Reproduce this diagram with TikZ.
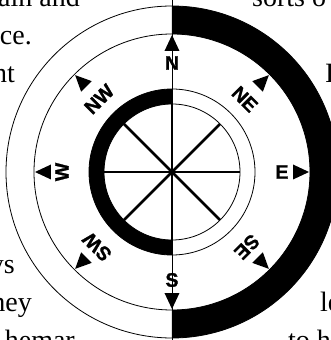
\documentclass[tikz,border=0pt]{standalone}
\usepackage{fontspec}
\setmainfont{Liberation Serif}
\setsansfont{Liberation Sans}
\newfontfamily\dirfont[FakeBold=1.2]{Liberation Sans}
\usetikzlibrary{calc}

\begin{document}
\begin{tikzpicture}[
    x=1pt, y=1pt,
    thinline/.style={draw=black, line width=0.8pt},
    spoke/.style={draw=black, line width=2.8pt},
    band/.style={fill=black, draw=none},
    tipmark/.style={fill=black, draw=none},
    dirlabel/.style={font=\dirfont\bfseries\fontsize{19.5}{19.5}\selectfont, inner sep=0pt},
    bodytext/.style={font=\fontsize{28}{28}\selectfont, inner sep=0pt}
]

    % --- Cadre ---
    \useasboundingbox (-172,-168) rectangle (159,172);
    \clip (-172,-168) rectangle (159,172);

    % --- Texte autour de la figure ---
    \node[bodytext, anchor=base east] (txtA) at (-92,165) {ain and};
    \node[bodytext, anchor=base east] (txtB) at (-140,127) {ce.};
    \node[bodytext, anchor=base east] (txtC) at (-157,89) {nt};
    \node[bodytext, anchor=base east] (txtD) at (-157,-101) {ys};
    \node[bodytext, anchor=base east] (txtE) at (-140,-139) {hey};
    \node[bodytext, anchor=base east] (txtF) at (-97,-177) {hemar};
    \node[bodytext, anchor=base west] (txtG) at (80,165) {sorts o};
    \node[bodytext, anchor=base west] (txtH) at (153,89) {I};
    \node[bodytext, anchor=base west] (txtI) at (148,-139) {le};
    \node[bodytext, anchor=base west] (txtJ) at (116,-177) {to hi};

    % --- Anneaux ---
    \fill[band] (0,166) arc[start angle=90, end angle=-90, radius=166]
        -- (0,-138) arc[start angle=-90, end angle=90, radius=138] -- cycle;
    \draw[thinline] (0,0) circle[radius=166];
    \draw[thinline] (0,0) circle[radius=138];
    \fill[band] (0,83) arc[start angle=90, end angle=270, radius=83]
        -- (0,-68) arc[start angle=270, end angle=90, radius=68] -- cycle;
    \draw[thinline] (0,0) circle[radius=83];
    \draw[thinline] (0,0) circle[radius=68];

    % --- Rayons ---
    \draw[thinline] (0,172) -- (0,-168);
    \draw[spoke] (0,83) -- (0,-83);
    \foreach \a in {0,45,135}
        \draw[spoke] (\a:68) -- (\a+180:68);

    % --- Pointes ---
    \foreach \a in {0,45,...,315}
        \fill[tipmark] (\a:137) -- ($(\a:121)+(\a+90:7.5)$) -- ($(\a:121)+(\a-90:7.5)$) -- cycle;

    % --- Points cardinaux ---
    \node[dirlabel] (lblN) at (90:109) {N};
    \node[dirlabel] (lblE) at (0:110) {E};
    \node[dirlabel, rotate=90] (lblW) at (180:110) {W};
    \node[dirlabel] (lblS) at (270:108) {S};
    \node[dirlabel, rotate=-45] (lblNE) at (45:103) {NE};
    \node[dirlabel, rotate=45] (lblNW) at (135:103) {NW};
    \node[dirlabel, rotate=135] (lblSW) at (225:106) {SW};
    \node[dirlabel, rotate=-135] (lblSE) at (315:106) {SE};

\end{tikzpicture}
\end{document}
